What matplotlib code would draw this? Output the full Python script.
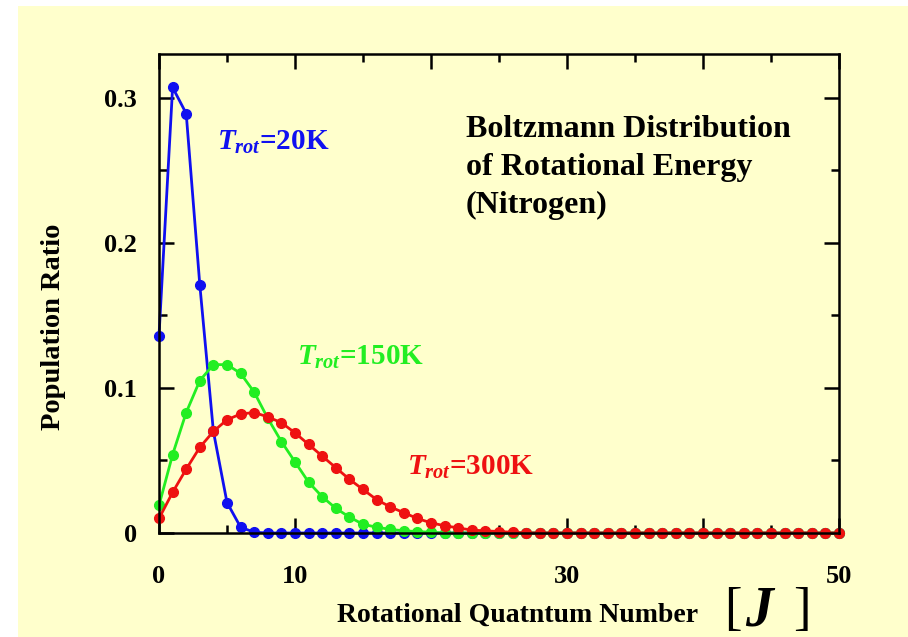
import matplotlib
matplotlib.use("Agg")
import matplotlib.pyplot as plt
from matplotlib.patches import Rectangle
from matplotlib.ticker import MultipleLocator

plt.rcParams['font.family'] = ['Liberation Serif', 'DejaVu Serif']
plt.rcParams['font.weight'] = 'bold'
plt.rcParams['mathtext.fontset'] = 'custom'
plt.rcParams['mathtext.it'] = 'Liberation Serif:italic:bold'
plt.rcParams['mathtext.rm'] = 'Liberation Serif:bold'

# rotational quantum number J = 0..50
J = list(range(51))

# population ratio
pop_20K = [0.136, 0.307, 0.289, 0.171, 0.070, 0.021, 0.004, 0.0005] + [0.0] * 43
pop_150K = [0.019, 0.054, 0.083, 0.105, 0.116, 0.116, 0.110, 0.097, 0.079, 0.063,
            0.049, 0.035, 0.025, 0.017, 0.011, 0.006, 0.004, 0.0025, 0.0015, 0.001,
            0.0005] + [0.0] * 30
pop_300K = [0.010, 0.028, 0.044, 0.059, 0.070, 0.078, 0.082, 0.083, 0.080, 0.076,
            0.069, 0.061, 0.053, 0.045, 0.037, 0.030, 0.023, 0.018, 0.014, 0.010,
            0.007, 0.005, 0.0035, 0.002, 0.0015, 0.001, 0.0005] + [0.0] * 24

xtick_vals = [0, 10, 20, 30, 40, 50]
xtick_labels = ['0', '10', '', '30', '', '50']
ytick_vals = [0, 0.1, 0.2, 0.3]
ytick_labels = ['0', '0.1', '0.2', '0.3']

title_lines = ['Boltzmann Distribution', 'of Rotational Energy', '(Nitrogen)']

bg = '#FFFFCC'
blue = '#1010F0'
green = '#22EE22'
red = '#EE1111'

W, H = 908, 637
def fx(px):
    return px / W
def fy(py):
    return 1 - py / H

fig = plt.figure(figsize=(9.08, 6.37), dpi=100)
fig.patch.set_facecolor('white')
fig.patches.append(Rectangle((fx(18), 0), 1, fy(6), transform=fig.transFigure,
                             facecolor=bg, edgecolor='none', zorder=-10))

ax = fig.add_axes([fx(159), fy(533), 680 / W, 479 / H])
ax.set_facecolor(bg)

for y, c in [(pop_20K, blue), (pop_150K, green), (pop_300K, red)]:
    ax.plot(J, y, color=c, lw=2, marker='o', ms=7, clip_on=False)

ax.set_xlim(0, 50)
ax.set_ylim(0, 0.33)
ax.set_xticks(xtick_vals)
ax.set_xticklabels(xtick_labels)
ax.set_yticks(ytick_vals)
ax.set_yticklabels(ytick_labels)
ax.xaxis.set_minor_locator(MultipleLocator(5))
ax.yaxis.set_minor_locator(MultipleLocator(0.05))
ax.tick_params(which='both', direction='in', top=True, right=True, width=1.8,
               labelsize=19)
ax.tick_params(which='major', length=11)
ax.tick_params(which='minor', length=5.5)
ax.tick_params(axis='x', pad=23)
ax.tick_params(axis='y', pad=16)
for s in ax.spines.values():
    s.set_linewidth(1.8)

fig.text(fx(54), fy(327), 'Population Ratio', fontsize=20.5, fontweight='bold',
         rotation=90, ha='center', va='center')

fig.text(fx(337), fy(615), 'Rotational Quatntum Number', fontsize=20,
         fontweight='bold', ha='left', va='center')
# big [J] unit, kept just inside the bottom edge
fig.text(fx(724), fy(611), '[', fontsize=38, fontweight='normal',
         ha='left', va='center')
fig.text(fx(745), fy(611), 'J', fontsize=40, fontweight='bold',
         fontstyle='italic', ha='left', va='center')
fig.text(fx(793), fy(611), ']', fontsize=38, fontweight='normal',
         ha='left', va='center')

for i, line in enumerate(title_lines):
    fig.text(fx(466), fy(137 + 38 * i), line, fontsize=23, fontweight='bold',
             ha='left', va='baseline')

fig.text(fx(217), fy(150), r'$T_{rot}$=20K', color=blue, fontsize=21,
         fontweight='bold', ha='left', va='baseline')
fig.text(fx(297), fy(365), r'$T_{rot}$=150K', color=green, fontsize=21,
         fontweight='bold', ha='left', va='baseline')
fig.text(fx(407), fy(475), r'$T_{rot}$=300K', color=red, fontsize=21,
         fontweight='bold', ha='left', va='baseline')

fig.savefig('out.png', dpi=100)
